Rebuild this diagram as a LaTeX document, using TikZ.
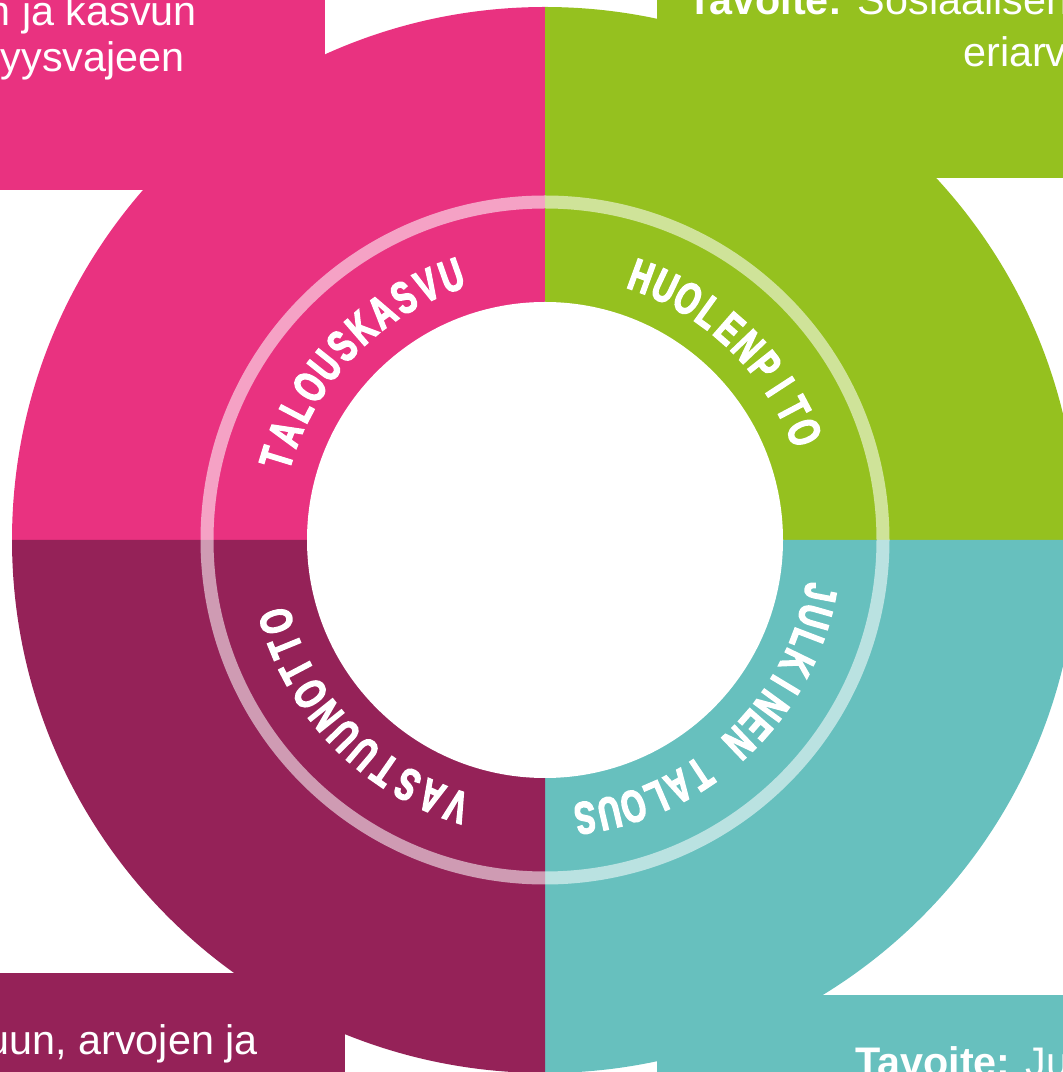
\documentclass[tikz,border=0pt]{standalone}
\usepackage{fontspec}
\setmainfont{Liberation Sans}
\newfontface\ringfont[FakeStretch=0.68,FakeBold=3]{Liberation Sans Bold}
\usepackage{tikz}
\definecolor{pinkq}{RGB}{233,50,128}
\definecolor{greenq}{RGB}{149,193,31}
\definecolor{tealq}{RGB}{103,192,190}
\definecolor{plumq}{RGB}{149,34,88}
\newcommand{\ringword}[4]{%
  \foreach \ch [count=\k from 0] in {#4} {%
    \pgfmathsetmacro{\ang}{#2-#3*\k}
    \node[rletter, rotate=\ang-90] (#1-\k) at (\ang:265) {\ch};
  }%
}

\begin{document}
\begin{tikzpicture}[x=0.75pt,y=0.75pt,
  boxtext/.style={text=white, font=\fontsize{31}{37}\selectfont, inner sep=0pt},
  rletter/.style={text=white, font=\ringfont\fontsize{34}{34}\selectfont, anchor=base, inner sep=0pt},
  ringline/.style={draw=white, draw opacity=0.55, line width=9.75pt}]
    \clip (0,0) rectangle (1063,1072);
    \coordinate (c) at (545,532);

    \fill[pinkq] (c) -- ++(180:533) arc[start angle=180, end angle=90, radius=533] -- cycle;
    \fill[greenq] (c) -- ++(90:533) arc[start angle=90, end angle=0, radius=533] -- cycle;
    \fill[tealq] (c) -- ++(0:533) arc[start angle=0, end angle=-90, radius=533] -- cycle;
    \fill[plumq] (c) -- ++(-90:533) arc[start angle=-90, end angle=-180, radius=533] -- cycle;

    \fill[pinkq] (0,882) rectangle (325,1072);
    \fill[greenq] (657,894) rectangle (1063,1072);
    \fill[plumq] (0,0) rectangle (345,99);
    \fill[tealq] (657,0) rectangle (1063,77);

    \fill[white] (c) circle[radius=238];
    \draw[ringline] (c) circle[radius=338];

    \node[boxtext, anchor=base east] (tl1) at (197,1046) {n ja kasvun};
    \node[boxtext, anchor=base east] (tl2) at (185,1000) {yysvajeen};
    \node[boxtext, anchor=base west] (tr1) at (687,1057) {\textbf{Tavoite:} Sosiaalisen};
    \node[boxtext, anchor=base west] (tr2) at (963,1005) {eriarv};
    \node[boxtext, anchor=base east] (bl1) at (258,17) {uun, arvojen ja};
    \node[boxtext, anchor=base west] (br1) at (855,-5) {\textbf{Tavoite:} Ju};

    \begin{scope}[shift={(c)}]
      \ringword{talous}{163}{5.35}{T,A,L,O,U,S,K,A,S,V,U}
      \ringword{huolen}{69.9}{5.26}{H,U,O,L,E,N,P,I,T,O}
      \ringword{julk}{-10.8}{5.07}{J,U,L,K,I,N,E,N,{},T,A,L,O,U,S}
      \ringword{vastuu}{251.6}{5.48}{V,A,S,T,U,U,N,O,T,T,O}
    \end{scope}
\end{tikzpicture}
\end{document}
